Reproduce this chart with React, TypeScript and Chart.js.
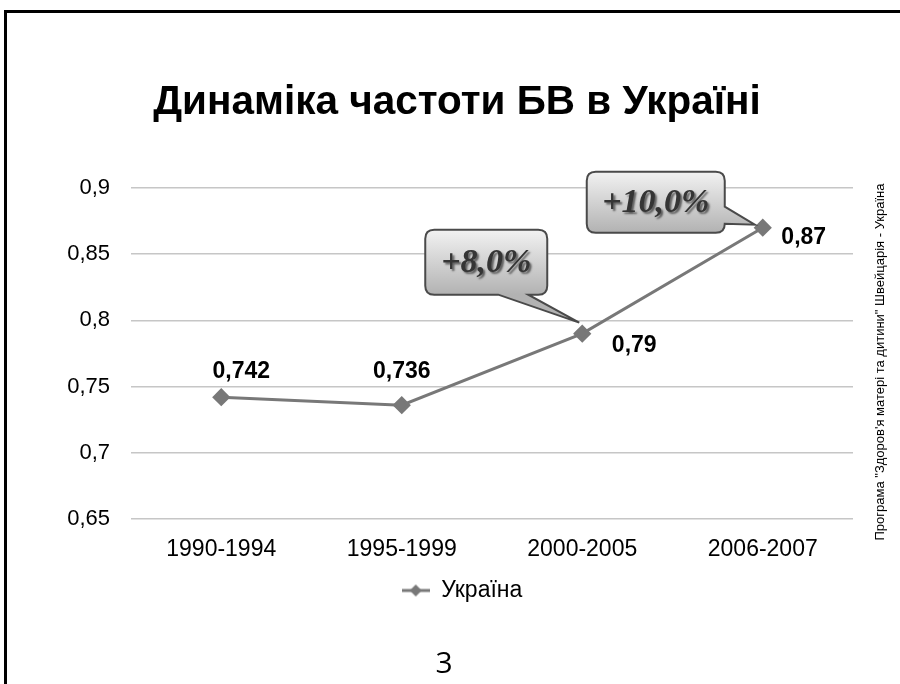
import React, { useEffect, useRef } from 'react';
import { Chart, registerables } from 'chart.js';

Chart.register(...registerables);

// ---- data ----
const categories = ['1990-1994', '1995-1999', '2000-2005', '2006-2007'];
const seriesName = 'Україна';
const values = [0.742, 0.736, 0.79, 0.87];
const yMin = 0.65;
const yMax = 0.9;
const yStep = 0.05;
const calloutIndices = [2, 3];
const calloutTexts = ['+8,0%', '+10,0%'];
const titleText = 'Динаміка частоти БВ в Україні';
const sideText = 'Програма "Здоров\'я матері та дитини" Швейцарія - Україна';
const pageNumber = '3';

// ---- styles / placement ----
const FONT = '"Liberation Sans", Arial, sans-serif';
const LINE_COLOR = '#787878';
const labelOffsets = [
  { dx: 20, dy: -26 },
  { dx: 0, dy: -33 },
  { dx: 52, dy: 12 },
  { dx: 41, dy: 10 },
];
// callout geometry relative to the anchored point
const calloutGeoms = [
  { box: [-157, -104, -35, -39], side: 'bottom', a: -84, b: -54, tip: [-3, -11] },
  { box: [-176, -56, -38, 5], side: 'right', a: -21, b: -4, tip: [-8, -3] },
];

const fmt = (v: number) => String(Number(v.toFixed(3))).replace('.', ',');

function bubblePath(ctx: CanvasRenderingContext2D, px: number, py: number, g: any) {
  const x0 = px + g.box[0], y0 = py + g.box[1], x1 = px + g.box[2], y1 = py + g.box[3];
  const r = 9;
  const tx = px + g.tip[0], ty = py + g.tip[1];
  ctx.beginPath();
  ctx.moveTo(x0 + r, y0);
  ctx.lineTo(x1 - r, y0);
  ctx.quadraticCurveTo(x1, y0, x1, y0 + r);
  if (g.side === 'right') {
    ctx.lineTo(x1, py + g.a);
    ctx.lineTo(tx, ty);
    ctx.lineTo(x1, py + g.b);
  }
  ctx.lineTo(x1, y1 - r);
  ctx.quadraticCurveTo(x1, y1, x1 - r, y1);
  if (g.side === 'bottom') {
    ctx.lineTo(px + g.b, y1);
    ctx.lineTo(tx, ty);
    ctx.lineTo(px + g.a, y1);
  }
  ctx.lineTo(x0 + r, y1);
  ctx.quadraticCurveTo(x0, y1, x0, y1 - r);
  ctx.lineTo(x0, y0 + r);
  ctx.quadraticCurveTo(x0, y0, x0 + r, y0);
  ctx.closePath();
  return { x0, y0, x1, y1 };
}

const overlayPlugin = {
  id: 'overlayLabels',
  afterDatasetsDraw(chart: any) {
    const meta = chart.getDatasetMeta(0);
    const ctx: CanvasRenderingContext2D = chart.ctx;
    ctx.save();
    // value labels
    ctx.font = `bold 23px ${FONT}`;
    ctx.fillStyle = '#000';
    ctx.textAlign = 'center';
    ctx.textBaseline = 'middle';
    meta.data.forEach((pt: any, i: number) => {
      const o = labelOffsets[i];
      ctx.fillText(fmt(values[i]), pt.x + o.dx, pt.y + o.dy);
    });
    // callouts
    calloutIndices.forEach((idx, k) => {
      const pt = meta.data[idx];
      const g = calloutGeoms[k];
      const b = bubblePath(ctx, pt.x, pt.y, g);
      const grad = ctx.createLinearGradient(0, b.y0, 0, b.y1);
      grad.addColorStop(0, '#f2f2f2');
      grad.addColorStop(1, '#b2b2b2');
      ctx.fillStyle = grad;
      ctx.fill();
      ctx.lineWidth = 2;
      ctx.strokeStyle = '#4a4a4a';
      ctx.stroke();
      ctx.save();
      ctx.font = `italic bold 34px "Liberation Serif", "Times New Roman", serif`;
      ctx.textAlign = 'center';
      ctx.textBaseline = 'middle';
      ctx.shadowColor = 'rgba(0,0,0,0.55)';
      ctx.shadowOffsetX = 2;
      ctx.shadowOffsetY = 2;
      ctx.shadowBlur = 2;
      ctx.fillStyle = '#353535';
      ctx.fillText(calloutTexts[k], (b.x0 + b.x1) / 2, (b.y0 + b.y1) / 2 + 1);
      ctx.restore();
    });
    ctx.restore();
  },
};

function makeLegendSymbol() {
  const c = document.createElement('canvas');
  c.width = 28;
  c.height = 14;
  const x = c.getContext('2d')!;
  x.strokeStyle = LINE_COLOR;
  x.lineWidth = 3;
  x.beginPath();
  x.moveTo(0, 7);
  x.lineTo(28, 7);
  x.stroke();
  x.fillStyle = LINE_COLOR;
  x.beginPath();
  x.moveTo(14, 1);
  x.lineTo(20, 7);
  x.lineTo(14, 13);
  x.lineTo(8, 7);
  x.closePath();
  x.fill();
  return c;
}

export default function App() {
  const ref = useRef<HTMLCanvasElement | null>(null);

  useEffect(() => {
    document.body.style.margin = '0';
    const canvas = ref.current;
    if (!canvas) return;
    const symbol = makeLegendSymbol();
    const chart = new Chart(canvas, {
      type: 'line',
      data: {
        labels: categories,
        datasets: [
          {
            label: seriesName,
            data: values,
            borderColor: LINE_COLOR,
            backgroundColor: LINE_COLOR,
            borderWidth: 3,
            pointStyle: 'rectRot',
            pointRadius: 7,
            pointBackgroundColor: LINE_COLOR,
            pointBorderColor: LINE_COLOR,
            tension: 0,
          },
        ],
      },
      options: {
        responsive: false,
        animation: false,
        layout: { padding: { left: 24, right: 0, top: 188, bottom: 72 } },
        plugins: {
          tooltip: { enabled: false },
          title: { display: false },
          legend: {
            position: 'bottom',
            labels: {
              usePointStyle: true,
              pointStyleWidth: 28,
              boxHeight: 14,
              color: '#000',
              font: { size: 23, family: FONT },
              generateLabels: (ch: any) =>
                Chart.defaults.plugins.legend.labels.generateLabels(ch).map((l: any) => ({
                  ...l,
                  pointStyle: symbol,
                })),
            },
          },
        },
        scales: {
          x: {
            offset: true,
            grid: { display: false, drawTicks: false },
            border: { display: false },
            ticks: { color: '#000', font: { size: 23, family: FONT }, padding: 17 },
            afterFit: (s: any) => {
              s.height = 50;
            },
          },
          y: {
            min: yMin,
            max: yMax,
            ticks: {
              stepSize: yStep,
              color: '#000',
              font: { size: 22, family: FONT },
              padding: 21,
              callback: (v: any) => fmt(Number(v)),
            },
            grid: { color: '#c6c6c6', lineWidth: 1.5, drawTicks: false },
            border: { display: false },
            afterFit: (s: any) => {
              s.width = 107;
            },
          },
          yRight: {
            type: 'linear',
            position: 'right',
            min: yMin,
            max: yMax,
            grid: { display: false, drawTicks: false },
            border: { display: false },
            ticks: { display: false },
            afterFit: (s: any) => {
              s.width = 47;
            },
          },
        },
      },
      plugins: [overlayPlugin],
    } as any);
    return () => chart.destroy();
  }, []);

  return (
    <div style={{ position: 'relative', width: 900, height: 684, overflow: 'hidden', background: '#fff' }}>
      <canvas ref={ref} width={900} height={684} style={{ position: 'absolute', left: 0, top: 0, display: 'block' }} />
      <div
        style={{
          position: 'absolute',
          left: 0,
          top: 76,
          width: 914,
          textAlign: 'center',
          fontFamily: FONT,
          fontWeight: 'bold',
          fontSize: 40.5,
          lineHeight: '48px',
          color: '#000',
        }}
      >
        {titleText}
      </div>
      <div
        style={{
          position: 'absolute',
          left: 680,
          top: 354,
          width: 400,
          height: 16,
          lineHeight: '16px',
          textAlign: 'center',
          fontFamily: FONT,
          fontSize: 13,
          color: '#000',
          whiteSpace: 'nowrap',
          transform: 'rotate(-90deg)',
          transformOrigin: '50% 50%',
        }}
      >
        {sideText}
      </div>
      <div
        style={{
          position: 'absolute',
          left: 424,
          top: 642,
          width: 40,
          height: 40,
          lineHeight: '40px',
          textAlign: 'center',
          fontFamily: '"Open Sans", sans-serif',
          fontSize: 30,
          color: '#000',
        }}
      >
        {pageNumber}
      </div>
      <div style={{ position: 'absolute', left: 4, top: 10, width: 896, height: 3, background: '#000' }} />
      <div style={{ position: 'absolute', left: 4, top: 10, width: 3, height: 674, background: '#000' }} />
    </div>
  );
}
